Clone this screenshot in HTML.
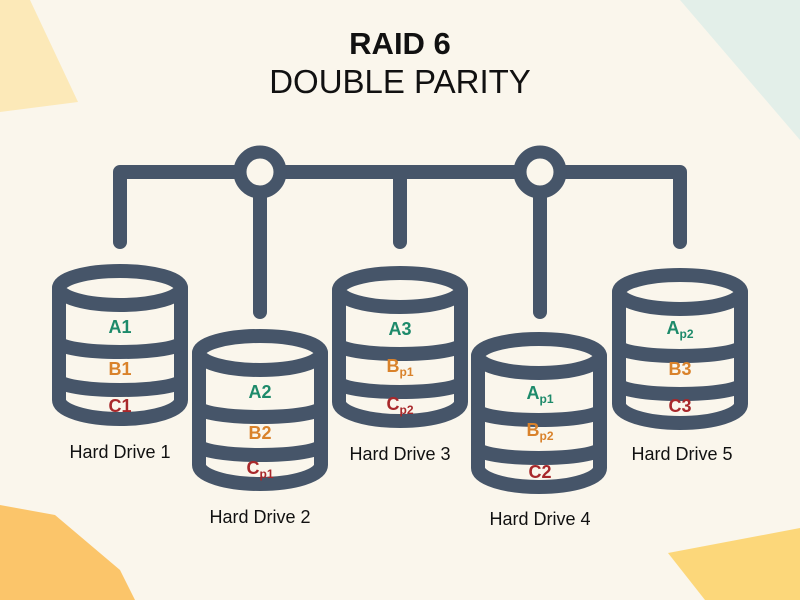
<!DOCTYPE html>
<html><head><meta charset="utf-8"><style>
html,body{margin:0;padding:0;}
body{width:800px;height:600px;overflow:hidden;background:#faf6ec;}
svg{display:block;}
text{font-family:"Liberation Sans",sans-serif;}
</style></head><body>
<svg width="800" height="600" viewBox="0 0 800 600" xmlns="http://www.w3.org/2000/svg">
<rect width="800" height="600" fill="#faf6ec"/>
<polygon points="0,0 30,0 78,102 0,112" fill="#fce9b8"/>
<polygon points="680,0 800,0 800,140" fill="#e3efe9"/>
<polygon points="0,505 55,515 120,570 135,600 0,600" fill="#fbc56a"/>
<polygon points="668,553 800,528 800,600 705,600" fill="#fcd77a"/>

<text x="400" y="54" text-anchor="middle" font-size="31" font-weight="bold" fill="#111">RAID 6</text>
<text x="400" y="93" text-anchor="middle" font-size="33" fill="#111">DOUBLE PARITY</text>

<g stroke="#465569" stroke-width="14" fill="none" stroke-linecap="round" stroke-linejoin="round">
<path d="M120,242 V172 H680 V242"/>
<path d="M400,172 V242"/>
<path d="M260,192 V312"/>
<path d="M540,192 V312"/>
</g>
<g stroke="#465569" stroke-width="13" fill="#faf6ec">
<circle cx="260" cy="172" r="20"/>
<circle cx="540" cy="172" r="20"/>
</g>

<defs>
<g id="cyl" stroke="#465569" stroke-width="14" fill="none" stroke-linecap="round">
<path d="M-61,0 V112 A61,19 0 0 0 61,112 V0" fill="#faf6ec"/>
<ellipse cx="0" cy="0" rx="61" ry="17" fill="#faf6ec"/>
<path d="M-61,54 A61,10 0 0 0 61,54"/>
<path d="M-61,92 A61,10 0 0 0 61,92"/>
</g>
</defs>
<use href="#cyl" x="120" y="288"/>
<use href="#cyl" x="260" y="353"/>
<use href="#cyl" x="400" y="290"/>
<use href="#cyl" x="539" y="356"/>
<use href="#cyl" x="680" y="292"/>

<g font-weight="bold" font-size="18" text-anchor="middle">
<text x="120" y="333" fill="#1d8a6a">A1</text>
<text x="120" y="375" fill="#d9822b">B1</text>
<text x="120" y="412" fill="#a8282b">C1</text>

<text x="260" y="398" fill="#1d8a6a">A2</text>
<text x="260" y="439" fill="#d9822b">B2</text>
<text x="260" y="474" fill="#a8282b">C<tspan font-size="12" dy="4">p1</tspan></text>

<text x="400" y="335" fill="#1d8a6a">A3</text>
<text x="400" y="372" fill="#d9822b">B<tspan font-size="12" dy="4">p1</tspan></text>
<text x="400" y="410" fill="#a8282b">C<tspan font-size="12" dy="4">p2</tspan></text>

<text x="540" y="399" fill="#1d8a6a">A<tspan font-size="12" dy="4">p1</tspan></text>
<text x="540" y="436" fill="#d9822b">B<tspan font-size="12" dy="4">p2</tspan></text>
<text x="540" y="478" fill="#a8282b">C2</text>

<text x="680" y="334" fill="#1d8a6a">A<tspan font-size="12" dy="4">p2</tspan></text>
<text x="680" y="375" fill="#d9822b">B3</text>
<text x="680" y="412" fill="#a8282b">C3</text>
</g>

<g font-size="18" text-anchor="middle" fill="#111">
<text x="120" y="458">Hard Drive 1</text>
<text x="260" y="523">Hard Drive 2</text>
<text x="400" y="460">Hard Drive 3</text>
<text x="540" y="525">Hard Drive 4</text>
<text x="682" y="460">Hard Drive 5</text>
</g>
</svg>
</body></html>
